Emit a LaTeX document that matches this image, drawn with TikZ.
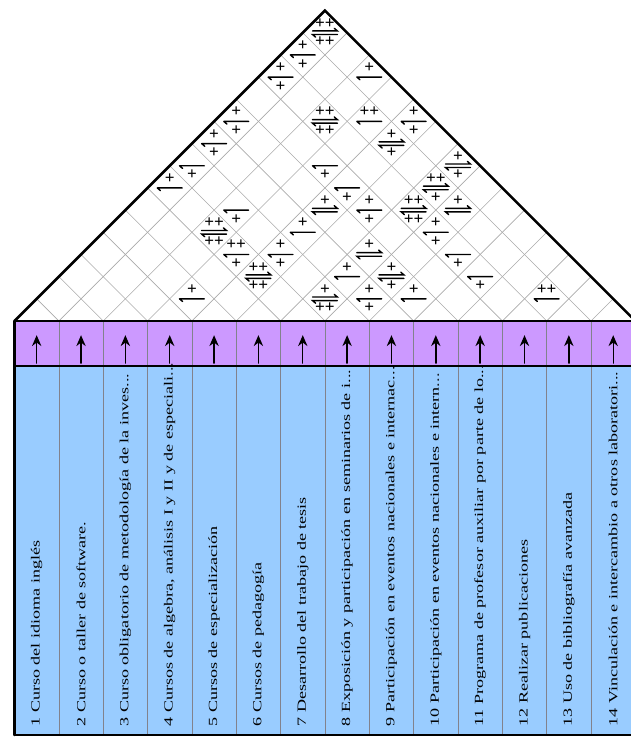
\documentclass[tikz,border=0pt]{standalone}
\usepackage[no-math]{fontspec}
\setmainfont{Liberation Serif}
\usepackage{graphicx}
\usetikzlibrary{arrows.meta}

\definecolor{gridgray}{RGB}{170,170,170}
\definecolor{sepgray}{RGB}{130,130,140}
\definecolor{hoqpurple}{RGB}{204,153,255}
\definecolor{hoqblue}{RGB}{153,204,255}

\tikzset{
  corr/.style={inner sep=0pt, font=\fontsize{11}{11}\selectfont\bfseries},
  req/.style={rotate=90, anchor=west, inner sep=0pt, font=\fontsize{8}{9}\selectfont},
  edge/.style={line width=1.6pt},
  harpone/.pic={\draw[line width=0.9pt] (-0.28,0) -- (0.28,0) (-0.28,0) -- (-0.21,-0.06);},
  harptwo/.pic={\draw[line width=0.9pt] (-0.28,0.04) -- (0.28,0.04) -- (0.21,0.1)
      (0.28,-0.04) -- (-0.28,-0.04) -- (-0.21,-0.1);},
}

\begin{document}
\begin{tikzpicture}[line cap=round,>={Stealth[length=7pt,width=6pt]},scale=1]
	\useasboundingbox (-0.327,-9.403) rectangle (13.90,7.238);
	\clip (-0.327,-9.403) rectangle (13.90,7.238);
	% bands
	\fill[hoqpurple] (0,0) rectangle (14,-1.015);
	\fill[hoqblue] (0,-1.015) rectangle (14,-9.335);
	\foreach \k in {1,...,13}
		\draw[sepgray,thin] (\k,0) -- (\k,-9.335);
	% roof grid
	\foreach \k in {1,...,13}
		\draw[gridgray,thin] (\k/2,\k/2) -- (\k,0) -- ({(14+\k)/2},{(14-\k)/2});
	% outline
	\draw[edge] (0,0) -- (7,7) -- (14,0);
	\draw[edge] (0,0) -- (14,0) (0,-1.015) -- (14,-1.015) (0,-9.335) -- (14,-9.335);
	\draw[edge] (0,0) -- (0,-9.335);
	% direction of improvement
	\foreach \k in {1,...,14}
		\draw[->,line width=0.9pt] (\k-0.5,-0.95) -- (\k-0.5,-0.32);
	% correlations: i/j/top/middle/bottom
	\foreach \i/\j/\t/\m/\b in {1/14/++/two/++, 1/13/+/one/+, 1/12/+/one/+, 3/14/+/one/{}, 1/10/+/one/+,
			3/12/++/two/++, 4/13/++/one/{}, 5/14/+/one/+, 1/9/+/one/+, 5/13/+/two/+, 1/8/{}/one/+, 1/7/+/one/{},
			4/11/{}/one/+, 5/11/{}/one/+, 7/14/+/two/+, 7/13/++/two/+, 8/13/+/two/{}, 5/10/+/two/{}, 6/11/+/one/+,
			7/12/++/two/++, 3/8/{}/one/+, 3/7/++/two/++, 5/9/+/one/{}, 8/12/+/one/+, 4/7/++/one/+, 5/8/+/one/+,
			7/10/+/two/{}, 9/12/{}/one/+, 5/7/++/two/++, 7/9/+/one/{}, 8/10/+/two/+, 10/12/{}/one/+, 4/5/+/one/{},
			7/8/+/two/++, 8/9/+/one/+, 9/10/+/one/{}, 12/13/++/one/{}}{
		\coordinate (m\i-\j) at ({(\i+\j-1)/2},{(\j-\i)/2});
		\pic at (m\i-\j) {harp\m};
		\node[corr] (t\i-\j) at ([yshift=0.21cm]m\i-\j) {\t};
		\node[corr] (b\i-\j) at ([yshift=-0.21cm]m\i-\j) {\b};
	}
	% requirements
	\foreach \k/\txt in {1/{1 Curso del idioma inglés}, 2/{2 Curso o taller de software.},
			3/{3 Curso obligatorio de metodología de la inves...},
			4/{4 Cursos de algebra, análisis I y II y de especiali...},
			5/{5 Cursos de especialización}, 6/{6 Cursos de pedagogía},
			7/{7 Desarrollo del trabajo de tesis},
			8/{8 Exposición y participación en seminarios de i...},
			9/{9 Participación en eventos nacionales e internac...},
			10/{10 Participación en eventos nacionales e intern...},
			11/{11 Programa de profesor auxiliar por parte de lo...},
			12/{12 Realizar publicaciones}, 13/{13 Uso de bibliografía avanzada},
			14/{14 Vinculación e intercambio a otros laboratori...}}
		\node[req] (r\k) at (\k-0.5,-9.15) {\scalebox{1.45}[1]{\txt}};
\end{tikzpicture}
\end{document}
